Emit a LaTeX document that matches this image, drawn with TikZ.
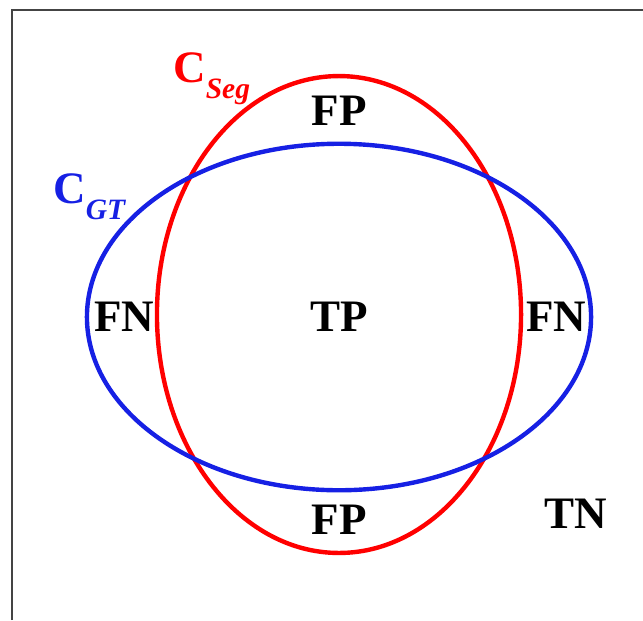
\documentclass[tikz,border=0pt]{standalone}
\usepackage{fontspec}
\setmainfont{Liberation Serif}
\usepackage{tikz}
\definecolor{segred}{RGB}{255,0,0}
\definecolor{gtblue}{RGB}{22,32,228}
\definecolor{framegray}{HTML}{444444}

\begin{document}
\begin{tikzpicture}[
  x=0.025cm, y=-0.025cm,
  region/.style={font=\fontsize{32}{36}\selectfont\bfseries, inner sep=0pt},
  setname/.style={font=\fontsize{32}{36}\selectfont\bfseries, inner sep=0pt, anchor=base west},
  contour/.style={line width=0.11cm}
]
\useasboundingbox (0,0) rectangle (643,620);
% frame (only top and left edges visible)
\draw[framegray, line width=1.2pt] (12,620) -- (12,10) -- (643,10);

% the two contours
\draw[contour, segred] (339,314.5) ellipse [x radius=4.55cm, y radius=5.96cm];
\draw[contour, gtblue] (339,317) ellipse [x radius=6.3cm, y radius=4.33cm];

% set names
\node[setname, text=segred] (cseg) at (173,82) {C\raisebox{-0.4cm}{\fontsize{21}{24}\selectfont\itshape Seg}};
\node[setname, text=gtblue] (cgt) at (53,203) {C\raisebox{-0.4cm}{\fontsize{21}{24}\selectfont\itshape GT}};

% regions
\node[region] (fptop) at (339,111) {FP};
\node[region] (tp) at (339,317) {TP};
\node[region] (fnleft) at (124,317) {FN};
\node[region] (fnright) at (556,317) {FN};
\node[region] (fpbot) at (339,520) {FP};
\node[region] (tn) at (576,514) {TN};
\end{tikzpicture}
\end{document}
